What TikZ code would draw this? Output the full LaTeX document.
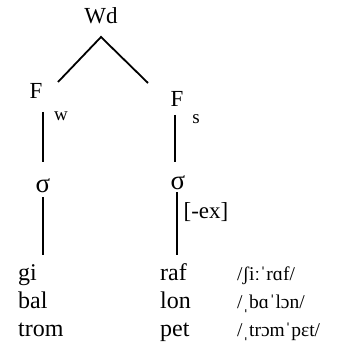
\documentclass[tikz,border=0pt]{standalone}
\usepackage{fontspec}
\setmainfont{Liberation Serif}

\begin{document}
\begin{tikzpicture}[x=1pt,y=-1pt,
    lbl/.style={inner sep=0pt,anchor=base,font=\fontsize{23}{27}\selectfont},
    sub/.style={inner sep=0pt,anchor=base,font=\fontsize{19}{22}\selectfont},
    sig/.style={inner sep=0pt,anchor=base,font=\fontsize{27}{31}\selectfont},
    word/.style={inner sep=0pt,anchor=base west,font=\fontsize{24}{28}\selectfont},
    ipa/.style={inner sep=0pt,anchor=base west,font=\fontsize{19.5}{23}\selectfont},
    branch/.style={line width=1.8pt}]
    \useasboundingbox (0,0) rectangle (352,358);

    % Tree
    \node[lbl] (wd) at (101,24) {Wd};
    \node[lbl] (fw) at (36,99) {F};
    \node[sub] (w) at (61,121) {w};
    \node[lbl] (fs) at (177,107) {F};
    \node[sub] (s) at (196,124) {s};
    \node[sig] (sigw) at (43,192) {σ};
    \node[sig] (sigs) at (178,189) {σ};
    \node[lbl] (ex) at (206,218) {[-ex]};

    % Words
    \node[word] (gi) at (18,280) {gi};
    \node[word] (raf) at (160,280) {raf};
    \node[ipa] (giraffe) at (237,280) {/ʃiːˈrɑf/};
    \node[word] (bal) at (18,308) {bal};
    \node[word] (lon) at (160,308) {lon};
    \node[ipa] (balloon) at (237,308) {/ˌbɑˈlɔn/};
    \node[word] (trom) at (18,336) {trom};
    \node[word] (pet) at (160,336) {pet};
    \node[ipa] (trumpet) at (237,336) {/ˌtrɔmˈpɛt/};

    % Branches
    \coordinate (fwend) at (58,82);
    \coordinate (fsend) at (148,83);
    \draw[branch] (fwend) -- ([yshift=-13pt]wd.base) -- (fsend);
    \draw[branch] ([shift={(7,13)}]fw.base) -- ([shift={(0,-30)}]sigw.base);
    \draw[branch] ([shift={(-2,8)}]fs.base) -- ([shift={(-3,-27)}]sigs.base);
    \draw[branch] ([shift={(0,5)}]sigw.base) -- ([shift={(0,-25)}]sigw.base |- gi.base);
    \draw[branch] ([shift={(-1,3)}]sigs.base) -- ([shift={(-1,-25)}]sigs.base |- raf.base);
\end{tikzpicture}
\end{document}
